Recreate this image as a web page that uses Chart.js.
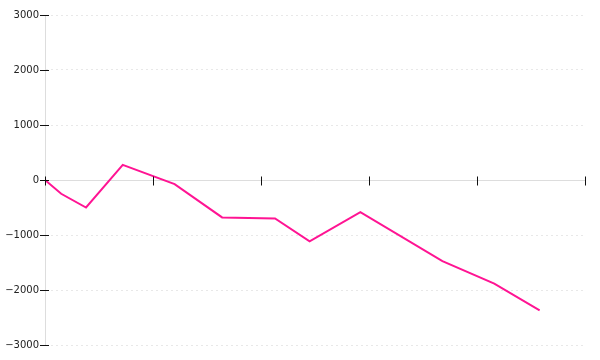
<!DOCTYPE html>
<html>
<head>
<meta charset="utf-8">
<script src="https://cdn.jsdelivr.net/npm/chart.js@4"></script>
<style>
  html, body { margin: 0; padding: 0; background: #fff; }
  #wrap { width: 600px; height: 360px; position: relative; }
</style>
</head>
<body>
<div id="wrap"><canvas id="c"></canvas></div>
<script>
// Data
const xValues = [0, 15, 38, 72, 120, 164, 213, 245, 292, 368, 416, 458];
const yValues = [0, -250, -500, 275, -75, -680, -700, -1115, -585, -1475, -1885, -2370];
const yTickValues = [-3000, -2000, -1000, 0, 1000, 2000, 3000];
const xTickValues = [0, 100, 200, 300, 400, 500];

const points = xValues.map((x, i) => ({ x: x, y: yValues[i] }));

const tickMarks = {
  id: 'tickMarks',
  afterDraw(chart) {
    const ctx = chart.ctx;
    const xs = chart.scales.x, ys = chart.scales.y;
    const left = Math.round(chart.chartArea.left) + 0.5;
    const zeroY = Math.round(ys.getPixelForValue(0)) + 0.5;
    ctx.save();
    ctx.strokeStyle = '#111';
    ctx.lineWidth = 1;
    ctx.beginPath();
    ys.ticks.forEach(t => {
      const py = Math.round(ys.getPixelForValue(t.value)) + 0.5;
      ctx.moveTo(left - 5.5, py);
      ctx.lineTo(left + 3.5, py);
    });
    xs.ticks.forEach(t => {
      const px = Math.round(xs.getPixelForValue(t.value)) + 0.5;
      ctx.moveTo(px, zeroY - 4);
      ctx.lineTo(px, zeroY + 5);
    });
    ctx.stroke();
    ctx.restore();
  }
};

new Chart(document.getElementById('c'), {
  type: 'line',
  data: {
    datasets: [{
      data: points,
      borderColor: '#ff1493',
      backgroundColor: '#ff1493',
      borderWidth: 2,
      pointRadius: 0,
      tension: 0,
      fill: false
    }]
  },
  options: {
    responsive: true,
    maintainAspectRatio: false,
    animation: false,
    layout: { padding: { top: 15, right: 15, bottom: 15, left: 0 } },
    plugins: { legend: { display: false }, tooltip: { enabled: false } },
    scales: {
      x: {
        type: 'linear',
        position: { y: 0 },
        min: xTickValues[0],
        max: xTickValues[xTickValues.length - 1],
        afterBuildTicks: (s) => { s.ticks = xTickValues.map(v => ({ value: v })); },
        ticks: { display: false },
        grid: { display: false, drawTicks: false },
        border: { display: true, color: '#dddddd', width: 1 }
      },
      y: {
        type: 'linear',
        position: 'left',
        min: yTickValues[0],
        max: yTickValues[yTickValues.length - 1],
        afterBuildTicks: (s) => { s.ticks = yTickValues.map(v => ({ value: v })); },
        afterFit: (s) => { s.width = 45; },
        ticks: {
          padding: 6,
          color: '#222',
          font: { family: 'DejaVu Sans', size: 10 },
          callback: (v) => String(v).replace('-', '\u2212')
        },
        grid: { color: '#e8e8e8', lineWidth: 1, drawTicks: false },
        border: { display: true, color: '#dddddd', width: 1, dash: [2, 3] }
      }
    }
  },
  plugins: [tickMarks]
});
</script>
</body>
</html>
